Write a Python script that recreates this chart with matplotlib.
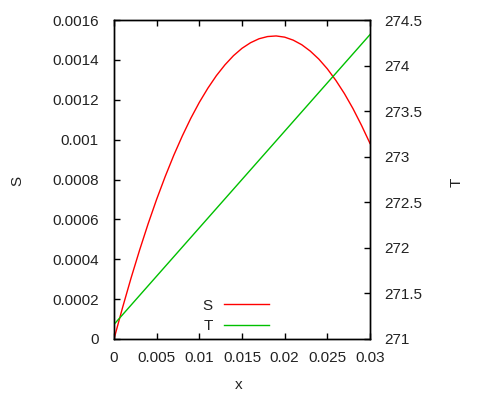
import matplotlib
matplotlib.use('Agg')
import matplotlib.pyplot as plt

plt.rcParams['font.family'] = ['Liberation Sans', 'DejaVu Sans']

# x positions sampled along the S curve
x_vals = [0.000, 0.001, 0.002, 0.003, 0.004, 0.005, 0.006, 0.007, 0.008, 0.009,
          0.010, 0.011, 0.012, 0.013, 0.014, 0.015, 0.016, 0.017, 0.018, 0.019,
          0.020, 0.021, 0.022, 0.023, 0.024, 0.025, 0.026, 0.027, 0.028, 0.029,
          0.030]
s_vals = [0.0, 0.000157, 0.000306, 0.000446, 0.000578, 0.000701, 0.000815, 0.000921,
          0.001018, 0.001107, 0.001187, 0.001258, 0.001321, 0.001375, 0.001421,
          0.001458, 0.001486, 0.001506, 0.001517, 0.001520, 0.001514, 0.001499,
          0.001476, 0.001444, 0.001404, 0.001355, 0.001297, 0.001231, 0.001156,
          0.001072, 0.000981]

# T is a straight line
t_x = [0.0, 0.03]
t_vals = [271.16, 274.34]

x_ticks = [0, 0.005, 0.01, 0.015, 0.02, 0.025, 0.03]
x_labels = ['0', '0.005', '0.01', '0.015', '0.02', '0.025', '0.03']
s_ticks = [0, 0.0002, 0.0004, 0.0006, 0.0008, 0.001, 0.0012, 0.0014, 0.0016]
s_labels = ['0', '0.0002', '0.0004', '0.0006', '0.0008', '0.001', '0.0012', '0.0014', '0.0016']
t_ticks = [271, 271.5, 272, 272.5, 273, 273.5, 274, 274.5]
t_labels = ['271', '271.5', '272', '272.5', '273', '273.5', '274', '274.5']

fig = plt.figure(figsize=(5, 4), dpi=100)
ax = fig.add_axes([0.228, 0.1525, 0.512, 0.7975])
ax2 = ax.twinx()

line_s, = ax.plot(x_vals, s_vals, color='#ff0000', lw=1, label='S')
line_t, = ax2.plot(t_x, t_vals, color='#00c000', lw=1, label='T')

ax.set_xlim(0, 0.03)
ax.set_ylim(0, 0.0016)
ax2.set_ylim(271, 274.5)

fs = 11
txt = '#222222'
ax.set_xticks(x_ticks)
ax.set_xticklabels(x_labels, fontsize=fs, color=txt)
ax.set_yticks(s_ticks)
ax.set_yticklabels(s_labels, fontsize=fs, color=txt)
ax2.set_yticks(t_ticks)
ax2.set_yticklabels(t_labels, fontsize=fs, color=txt)

ax.tick_params(axis='x', direction='in', length=4, width=1, top=True, pad=9)
ax.tick_params(axis='y', direction='in', length=4, width=1, right=False, pad=11)
ax2.tick_params(axis='y', direction='in', length=4, width=1, pad=10)

for a in (ax, ax2):
    for sp in a.spines.values():
        sp.set_linewidth(1)

ax.set_xlabel('x', fontsize=fs, va='center', color=txt)
ax.xaxis.set_label_coords(0.487, -0.144)
ax.set_ylabel('S', fontsize=fs, va='center', color=txt)
ax.yaxis.set_label_coords(-0.379, 0.495)
ax2.set_ylabel('T', fontsize=fs, va='center', color=txt)
ax2.yaxis.set_label_coords(1.34, 0.49)

leg = ax2.legend(handles=[line_s, line_t], loc='lower center', bbox_to_anchor=(0.475, -0.025),
                 frameon=False, markerfirst=False, fontsize=fs, handlelength=2.9,
                 labelspacing=0.42, handletextpad=0.75)
for t in leg.get_texts():
    t.set_color(txt)

fig.savefig('out.png', dpi=100)
